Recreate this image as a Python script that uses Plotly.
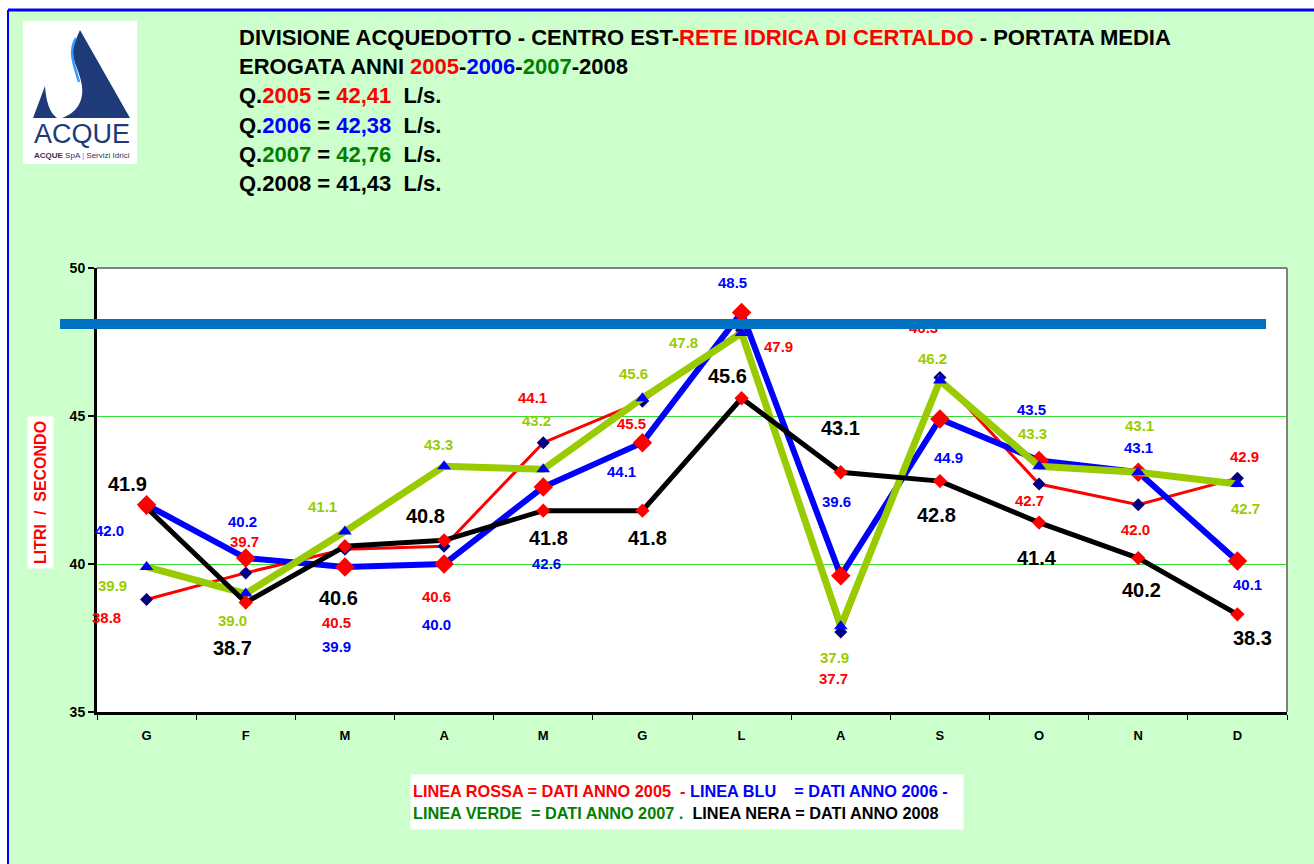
import plotly.graph_objects as go

# ---------------- data ----------------
MONTHS = ["G", "F", "M", "A", "M", "G", "L", "A", "S", "O", "N", "D"]
Q2005 = [38.8, 39.7, 40.5, 40.6, 44.1, 45.5, 47.9, 37.7, 46.3, 42.7, 42.0, 42.9]
Q2006 = [42.0, 40.2, 39.9, 40.0, 42.6, 44.1, 48.5, 39.6, 44.9, 43.5, 43.1, 40.1]
Q2007 = [39.9, 39.0, 41.1, 43.3, 43.2, 45.6, 47.8, 37.9, 46.2, 43.3, 43.1, 42.7]
Q2008 = [41.9, 38.7, 40.6, 40.8, 41.8, 41.8, 45.6, 43.1, 42.8, 41.4, 40.2, 38.3]
YEARS = ["2005", "2006", "2007", "2008"]
YEAR_MEANS = ["42,41", "42,38", "42,76", "41,43"]
REF_LEVEL = 48.12
Y_TICKS = [35, 40, 45, 50]

# label offsets in pixels (dx, dy downward), kept apart from the data
OFF_2005 = [(-40, 18), (-1, -31), (-8, 73), (-8, 50), (-11, -45), (-11, 22),
            (37, 16), (-7, 46), (-16, -50), (-10, 16), (-3, 25), (7, -22)]
OFF_2006 = [(-37, 26), (-3, -37), (-8, 80), (-8, 60), (3, 76), (-21, 29),
            (-9, -30), (-4, -74), (9, 39), (-8, -51), (0, -25), (10, 23)]
OFF_2007 = [(-34, 19), (-13, 27), (-22, -25), (-6, -22), (-7, -49), (-9, -25),
            (-58, 9), (-6, 31), (-7, -22), (-7, -33), (1, -47), (8, 24)]
OFF_2008 = [(-19, -24), (-13, 46), (-6, 52), (-19, -24), (5, 27), (5, 27),
            (-14, -22), (0, -44), (-3, 34), (-2, 35), (3, 32), (15, 24)]

# ---------------- geometry helpers ----------------
W, H = 1314, 864
L, R, T, B = 97, 27, 268, 152
PW, PH = W - L - R, H - T - B


def px(xp):
    return (xp - L) / PW


def py(yp):
    return (H - B - yp) / PH


RED, BLUE, GREEN_T, LIME, NAVY = "#FF0000", "#0000FF", "#008000", "#99CC00", "#000080"
LOGO = "#1E3A78"
FONT = "Liberation Sans, Arial, sans-serif"

X = list(range(len(MONTHS)))

fig = go.Figure()
fig.add_trace(go.Scatter(x=X, y=Q2005, mode="lines+markers", name="2005",
                         line=dict(color=RED, width=3),
                         marker=dict(symbol="diamond", size=10, color=NAVY),
                         cliponaxis=False, showlegend=False))
fig.add_trace(go.Scatter(x=X, y=Q2006, mode="lines+markers", name="2006",
                         line=dict(color=BLUE, width=6),
                         marker=dict(symbol="diamond", size=15, color=RED),
                         cliponaxis=False, showlegend=False))
fig.add_trace(go.Scatter(x=X, y=Q2007, mode="lines+markers", name="2007",
                         line=dict(color=LIME, width=7),
                         marker=dict(symbol="triangle-up", size=12, color=BLUE),
                         cliponaxis=False, showlegend=False))
fig.add_trace(go.Scatter(x=X, y=Q2008, mode="lines+markers", name="2008",
                         line=dict(color="#000000", width=5),
                         marker=dict(symbol="diamond", size=11, color=RED),
                         cliponaxis=False, showlegend=False))

annotations = []

# data labels
for vals, offs, col, size in [(Q2005, OFF_2005, RED, 15), (Q2006, OFF_2006, BLUE, 15),
                              (Q2007, OFF_2007, LIME, 15), (Q2008, OFF_2008, "#000000", 20)]:
    for i, (v, (dx, dy)) in enumerate(zip(vals, offs)):
        annotations.append(dict(x=i, y=v, xref="x", yref="y", text=f"{v:.1f}",
                                showarrow=False, xshift=dx, yshift=-dy,
                                xanchor="center", yanchor="middle",
                                font=dict(family=FONT, size=size, color=col, weight="bold")))

# reference bar (drawn as a filled box above labels/traces)
bx0, bx1 = px(60), px(1266)
annotations.append(dict(x=(bx0 + bx1) / 2, y=REF_LEVEL, xref="paper", yref="y", text=" ",
                        showarrow=False, width=1206, height=10, bgcolor="#0070C0",
                        borderpad=0, borderwidth=0, xanchor="center", yanchor="middle",
                        font=dict(size=1)))


# header text
def c(txt, col):
    return f"<span style='color:{col}'>{txt}</span>"


ycols = [RED, BLUE, GREEN_T, "#000000"]
head = [
    "DIVISIONE ACQUEDOTTO - CENTRO EST-" + c("RETE IDRICA DI CERTALDO", RED) + " - PORTATA MEDIA",
    "EROGATA ANNI " + c(YEARS[0], RED) + "-" + c(YEARS[1], BLUE) + "-" + c(YEARS[2], GREEN_T) + "-" + YEARS[3],
]
for yr, m, col in zip(YEARS, YEAR_MEANS, ycols):
    head.append("Q." + c(yr, col) + " = " + c(m, col) + "\u00a0\u00a0L/s.")
head_y = [37, 66, 96, 125, 154, 183]
for txt, yy in zip(head, head_y):
    annotations.append(dict(x=px(237), y=py(yy), xref="paper", yref="paper", text=txt,
                            showarrow=False, xanchor="left", yanchor="middle",
                            font=dict(family=FONT, size=22, color="#000000", weight="bold")))

# y axis title
annotations.append(dict(x=px(40), y=py(492), xref="paper", yref="paper",
                        text="LITRI\u00a0\u00a0/\u00a0\u00a0SECONDO", textangle=-90,
                        showarrow=False, bgcolor="#FFFFFF", borderpad=4,
                        xanchor="center", yanchor="middle",
                        font=dict(family=FONT, size=16, color=RED, weight="bold")))

# bottom legend box
leg = (c("LINEA ROSSA = DATI ANNO 2005\u00a0\u00a0- ", RED)
       + c("LINEA BLU\u00a0\u00a0\u00a0\u00a0= DATI ANNO 2006 -", BLUE) + "<br>"
       + c("LINEA VERDE\u00a0\u00a0= DATI ANNO 2007 .", GREEN_T)
       + c("\u00a0\u00a0LINEA NERA = DATI ANNO 2008", "#000000"))
annotations.append(dict(x=px(410), y=py(802), xref="paper", yref="paper", text=leg,
                        showarrow=False, xanchor="left", yanchor="middle", align="left",
                        bgcolor="#FFFFFF", width=548, height=50, borderpad=2,
                        font=dict(family=FONT, size=16.3, color="#000000", weight="bold")))

# logo text
annotations.append(dict(x=px(82), y=py(134), xref="paper", yref="paper", text="ACQUE",
                        showarrow=False, xanchor="center", yanchor="middle",
                        font=dict(family=FONT, size=27, color=LOGO)))
annotations.append(dict(x=px(82), y=py(155), xref="paper", yref="paper",
                        text="<b>ACQUE</b> SpA <span style='color:#3399FF'>|</span> Servizi Idrici",
                        showarrow=False, xanchor="center", yanchor="middle",
                        font=dict(family=FONT, size=8, color="#333355")))

shapes = []
# white margins outside the frame + blue frame
shapes.append(dict(type="rect", xref="paper", yref="paper", x0=px(-10), x1=px(1330),
                   y0=py(10), y1=py(-10), fillcolor="#FFFFFF", line=dict(width=0), layer="below"))
shapes.append(dict(type="rect", xref="paper", yref="paper", x0=px(-10), x1=px(8),
                   y0=py(880), y1=py(-10), fillcolor="#FFFFFF", line=dict(width=0), layer="below"))
shapes.append(dict(type="line", xref="paper", yref="paper", x0=px(8), x1=px(1330),
                   y0=py(10), y1=py(10), line=dict(color="#0000FF", width=3)))
shapes.append(dict(type="line", xref="paper", yref="paper", x0=px(8), x1=px(8),
                   y0=py(10), y1=py(880), line=dict(color="#0000FF", width=2)))
# plot border (top & right gray)
shapes.append(dict(type="line", xref="paper", yref="paper", x0=0, x1=1, y0=1, y1=1,
                   line=dict(color="#808080", width=2), layer="above"))
shapes.append(dict(type="line", xref="paper", yref="paper", x0=1, x1=1, y0=0, y1=1,
                   line=dict(color="#808080", width=2), layer="above"))


# logo graphics
def path_px(cmds):
    out = []
    for tok in cmds:
        if isinstance(tok, str):
            out.append(tok)
        else:
            out.append(f"{px(tok[0]):.5f},{py(tok[1]):.5f}")
    return " ".join(out)


shapes.append(dict(type="rect", xref="paper", yref="paper", x0=px(23), x1=px(137),
                   y0=py(164), y1=py(21), fillcolor="#FFFFFF", line=dict(width=0)))
shapes.append(dict(type="path", xref="paper", yref="paper",
                   path=path_px(["M", (80, 30), "L", (130, 118), "L", (62, 118),
                                 "C", (76, 113), (84, 102), (82, 86),
                                 "C", (80, 70), (70, 58), (73, 46),
                                 "L", (80, 30), "Z"]),
                   fillcolor=LOGO, line=dict(width=0)))
shapes.append(dict(type="path", xref="paper", yref="paper",
                   path=path_px(["M", (76, 38), "C", (68, 52), (74, 64), (79, 82)]),
                   line=dict(color="#3399FF", width=2.5)))
shapes.append(dict(type="path", xref="paper", yref="paper",
                   path=path_px(["M", (45, 86), "L", (33, 118), "L", (57, 118),
                                 "C", (50, 113), (46, 102), (45, 86), "Z"]),
                   fillcolor=LOGO, line=dict(width=0)))

fig.update_layout(
    width=W, height=H,
    margin=dict(l=L, r=R, t=T, b=B, pad=0),
    paper_bgcolor="#CCFFCC", plot_bgcolor="#FFFFFF",
    showlegend=False,
    annotations=annotations, shapes=shapes,
    xaxis=dict(range=[-0.5, len(MONTHS) - 0.5], tickmode="array", tickvals=X, ticktext=MONTHS,
               ticks="", showgrid=False, zeroline=False, ticklabelstandoff=9,
               showline=True, linecolor="#000000", linewidth=3,
               tickfont=dict(family=FONT, size=13, color="#000000", weight="bold"),
               minor=dict(tick0=0.5, dtick=1, ticks="outside", ticklen=5, tickwidth=1,
                          tickcolor="#000000", showgrid=False)),
    yaxis=dict(range=[35, 50], tickmode="array", tickvals=Y_TICKS,
               ticks="outside", ticklen=6, tickwidth=2, tickcolor="#000000",
               showgrid=True, gridcolor="#33DD33", gridwidth=1, zeroline=False,
               showline=True, linecolor="#000000", linewidth=3,
               tickfont=dict(family=FONT, size=14, color="#000000", weight="bold")),
)

fig.write_html("out.html", config={"displayModeBar": False},
               post_script="document.body.style.margin='0';")
